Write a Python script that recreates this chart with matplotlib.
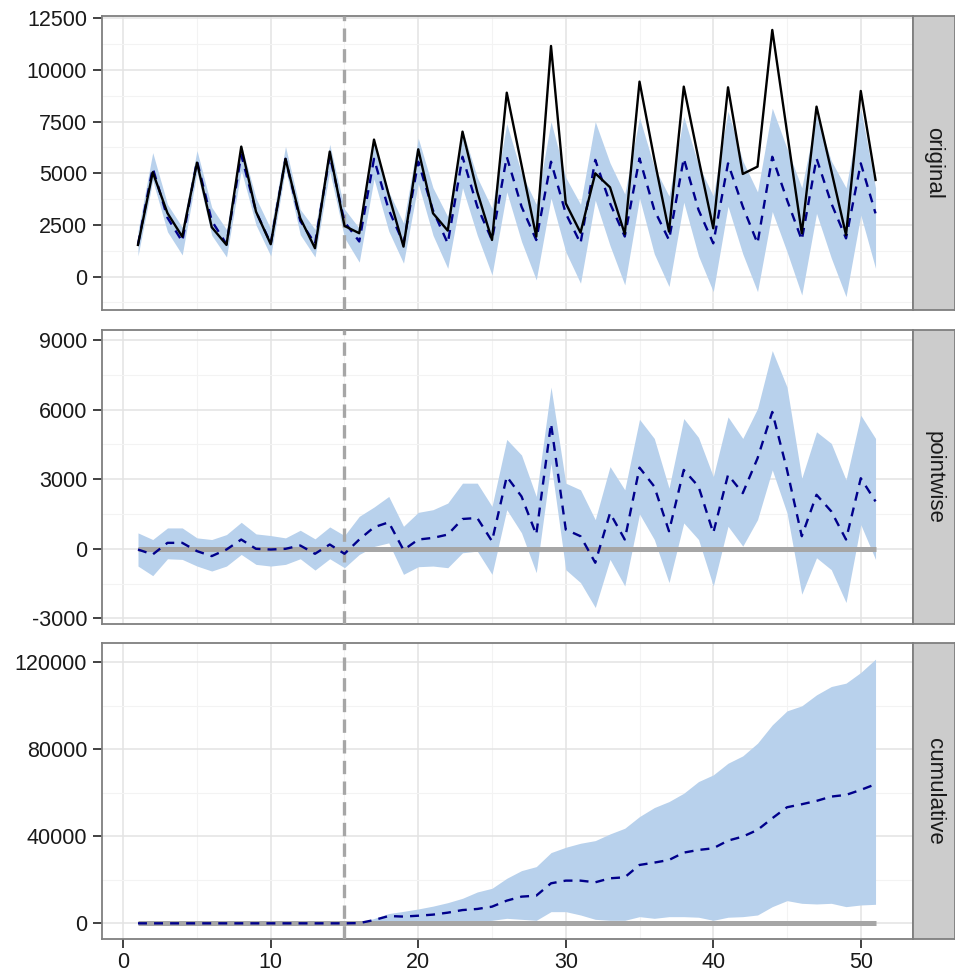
import numpy as np
import matplotlib
matplotlib.use("Agg")
import matplotlib.pyplot as plt
from matplotlib.ticker import MultipleLocator

plt.rcParams['font.family'] = ['Liberation Sans', 'DejaVu Sans']
plt.rcParams['axes.unicode_minus'] = False

# ---------------- data ----------------
time = np.arange(1, 52)
intervention = 15

original = [1534, 5050, 3070, 1935, 5516, 2390, 1534, 6290, 3145, 1567, 5695, 2825, 1374, 6048, 2453,
            2100, 6630, 3950, 1452, 6160, 3064, 2226, 7015, 4100, 1774, 8900, 5400, 1935, 11160, 3548,
            2129, 5000, 4322, 2064, 9435, 5700, 2177, 9193, 5700, 2338, 9160, 4968, 5322, 11935, 7000,
            2097, 8225, 5129, 2016, 8983, 4677]
pred_original = [1560, 5250, 2850, 1700, 5600, 2700, 1570, 5890, 3150, 1600, 5700, 2700, 1590, 5860, 2650,
                 1700, 5700, 3230, 1610, 5560, 3200, 1610, 5800, 3390, 1770, 5800, 3390, 1770, 5560, 3060,
                 1610, 5650, 3550, 1940, 5720, 3230, 1770, 5720, 3230, 1610, 5480, 3390, 1610, 5800, 3710,
                 1770, 5720, 3550, 1850, 5480, 3060]
lower_original = [1000, 4650, 2170, 1050, 5050, 2000, 950, 5150, 2500, 1000, 5220, 2030, 950, 5100, 1880,
                  700, 4730, 2200, 650, 4500, 2000, 400, 4300, 2000, 80, 4100, 1700, -160, 3800, 1200,
                  -320, 3700, 1500, -400, 3800, 1100, -480, 3600, 1000, -730, 3400, 1100, -730, 3150, 1200,
                  -890, 3060, 900, -970, 2980, 400]
upper_original = [2200, 6000, 3500, 2390, 6100, 3350, 2280, 6400, 3800, 2310, 6300, 3250, 2290, 6400, 3270,
                  2340, 6530, 4100, 2600, 6700, 4300, 2900, 7100, 4800, 3300, 7400, 5000, 3500, 7500, 4800,
                  3500, 7500, 5500, 4000, 7700, 5300, 3900, 7750, 5400, 3900, 8000, 5600, 4100, 8150, 6200,
                  4300, 7820, 5600, 4300, 8150, 4300]

pointwise = [-30, -243, 257, 257, -100, -314, -30, 400, 0, -30, 0, 143, -214, 186, -214,
             400, 930, 1143, -50, 400, 471, 614, 1286, 1329, 329, 3114, 2257, 614, 5400, 829,
             543, -600, 1543, 400, 3500, 2686, 757, 3400, 2686, 686, 3186, 2400, 3900, 5900, 3400,
             543, 2329, 1614, 400, 3043, 2043]
lower_pointwise = [-743, -1157, -429, -457, -743, -957, -743, -243, -671, -743, -671, -429, -917, -429, -814,
                   -243, 100, 257, -1100, -771, -743, -814, -171, -100, -1100, 1686, 686, -1029, 3686, -900,
                   -1457, -2529, -457, -1600, 1500, 400, -1457, 1114, 400, -1600, 971, 114, 1257, 3400, 1543,
                   -1957, -386, -900, -2314, 1043, -457]
upper_pointwise = [686, 400, 900, 900, 471, 400, 614, 1143, 643, 571, 471, 800, 429, 943, 571,
                   1400, 1800, 2257, 971, 1571, 1686, 1971, 2829, 2829, 1829, 4714, 4043, 2257, 6971, 2829,
                   2543, 1257, 3543, 2543, 5580, 4757, 2614, 5614, 4800, 3114, 5686, 4757, 6043, 8543, 6971,
                   3043, 5043, 4543, 2971, 5757, 4757]

cumulative = [0, 0, 0, 0, 0, 0, 0, 0, 0, 0, 0, 0, 0, 0, 0,
              100, 1500, 3360, 3100, 3500, 4000, 4900, 6100, 6600, 7663, 10424, 12261, 12720, 18392, 19618,
              19618, 18852, 20691, 21151, 26820, 27893, 29119, 32490, 33716, 34482, 38006, 39845, 42911,
              48279, 53336, 54715, 56248, 58240, 59006, 61305, 63911]
lower_cumulative = [0, 0, 0, 0, 0, 0, 0, 0, 0, 0, 0, 0, 0, 0, 0,
                    -100, -300, 300, -700, -600, -500, -400, -200, 766, 1380, 2299, 1840, 1380, 5365, 5365,
                    3832, 1840, 1380, 1380, 3066, 2299, 3066, 3066, 2800, 1380, 2800, 3066, 3832,
                    7663, 10424, 9196, 8890, 9196, 7663, 8430, 8737]
upper_cumulative = [0, 0, 0, 0, 0, 0, 0, 0, 0, 0, 0, 0, 0, 0, 0,
                    300, 2200, 4500, 5500, 6600, 7900, 9500, 11500, 14400, 16093, 20691, 24217, 26055, 32490, 34942,
                    36784, 38006, 41076, 43681, 49047, 53183, 55942, 59774, 65134, 68200, 73568, 76934, 82764,
                    91180, 97617, 99917, 104975, 108807, 110352, 115257, 121387]

panel_names = ["original", "pointwise", "cumulative"]
y_major = [2500, 3000, 40000]
y_limits = [(-1615, 12610), (-3240, 9430), (-7200, 128800)]
x_ticks = [0, 10, 20, 30, 40, 50]

# ---------------- style ----------------
band_col = "#B8D1EC"
pred_col = "#00008B"
grey_line = "#A6A6A6"
border_col = "#7F7F7F"
text_col = "#1A1A1A"
fs = 15.5

fig = plt.figure(figsize=(9.55, 9.75), dpi=100)
W, H = 955.0, 975.0
left_px, right_px = 101.7, 913.0
panel_px = [(16, 310), (330, 624), (643, 939)]

series = [
    (pred_original, lower_original, upper_original, original),
    (pointwise, lower_pointwise, upper_pointwise, None),
    (cumulative, lower_cumulative, upper_cumulative, None),
]

for i, ((top, bot), name) in enumerate(zip(panel_px, panel_names)):
    rect = [left_px / W, 1 - bot / H, (right_px - left_px) / W, (bot - top) / H]
    ax = fig.add_axes(rect)
    pred, lo, hi, obs = series[i]

    ax.set_xlim(-1.46, 53.54)
    ax.set_ylim(*y_limits[i])
    ax.xaxis.set_major_locator(matplotlib.ticker.FixedLocator(x_ticks))
    ax.xaxis.set_minor_locator(MultipleLocator(5))
    ax.yaxis.set_major_locator(MultipleLocator(y_major[i]))
    ax.yaxis.set_minor_locator(MultipleLocator(y_major[i] / 2))
    ax.grid(which="major", color="#E3E3E3", lw=1.1, zorder=0)
    ax.grid(which="minor", color="#F3F3F3", lw=0.8, zorder=0)
    ax.set_axisbelow(True)

    ax.fill_between(time, lo, hi, color=band_col, lw=0, zorder=2)
    if i > 0:
        ax.plot(time, np.zeros(len(time)), color=grey_line, lw=3.6, zorder=3,
                solid_capstyle="butt")
    ax.axvline(intervention, color=grey_line, lw=2.4, dashes=(4, 2.2), zorder=4)
    ax.plot(time, pred, color=pred_col, lw=1.7, dashes=(3.8, 3.0), zorder=5)
    if obs is not None:
        ax.plot(time, obs, color="black", lw=1.7, zorder=6)

    for sp in ax.spines.values():
        sp.set_color(border_col)
        sp.set_linewidth(1.3)

    ax.tick_params(axis="y", which="major", length=6.5, width=1.3, color="#333333",
                   labelsize=fs, labelcolor=text_col, pad=4)
    ax.tick_params(axis="both", which="minor", length=0)
    if i < 2:
        ax.tick_params(axis="x", which="major", length=0, labelbottom=False)
    else:
        ax.tick_params(axis="x", which="major", length=6.5, width=1.3, color="#333333",
                       labelsize=fs, labelcolor=text_col, pad=3)

    # facet strip
    sax = fig.add_axes([right_px / W, 1 - bot / H, (W - right_px) / W, (bot - top) / H])
    sax.set_facecolor("#CCCCCC")
    sax.set_xticks([])
    sax.set_yticks([])
    for sp in sax.spines.values():
        sp.set_color(border_col)
        sp.set_linewidth(1.3)
    sax.text(0.5, 0.5, name, rotation=270, ha="center", va="center",
             fontsize=fs + 0.5, color=text_col, transform=sax.transAxes)

fig.savefig("out.png", dpi=100)
